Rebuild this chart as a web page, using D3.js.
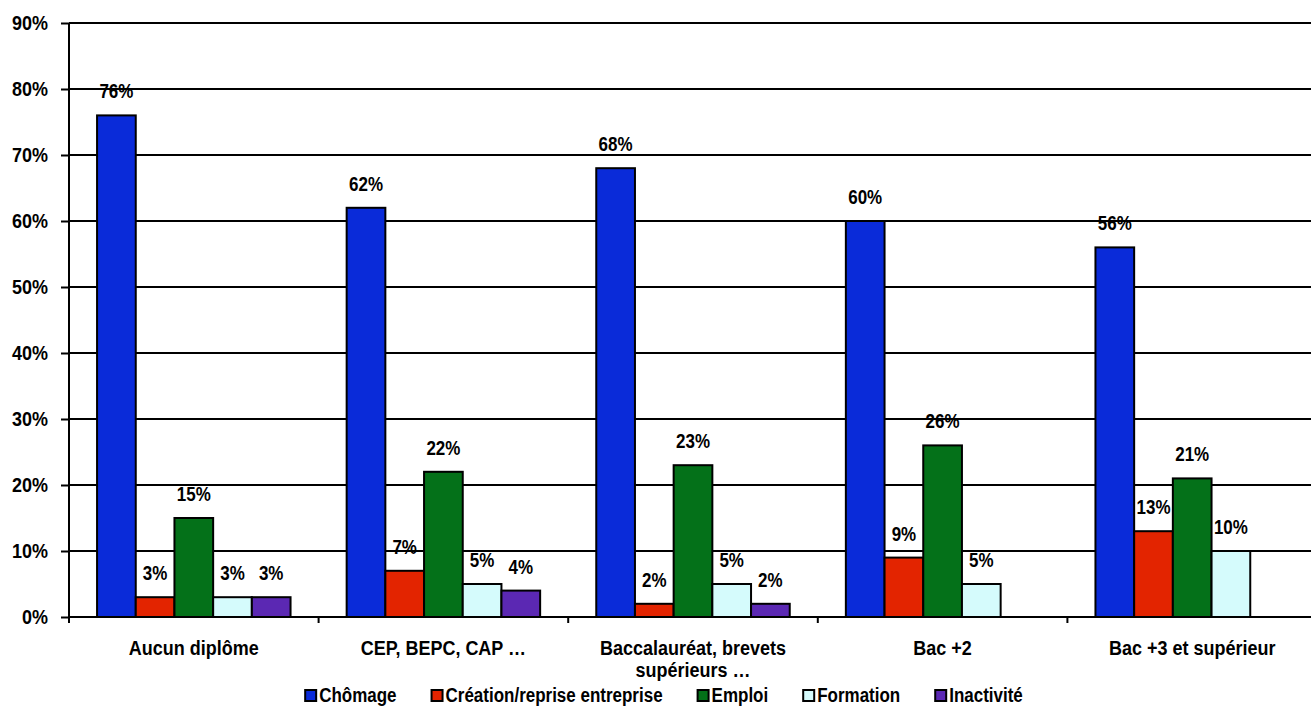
<!DOCTYPE html>
<html>
<head>
<meta charset="utf-8">
<script src="https://cdn.jsdelivr.net/npm/d3@7"></script>
<style>
  html, body { margin: 0; padding: 0; background: #fff; }
  svg { display: block; }
  text { font-family: "Liberation Sans", Arial, sans-serif; font-weight: bold; fill: #000; }
</style>
</head>
<body>
<svg id="chart" width="1311" height="707"></svg>
<script>
// Diplômes (catégories)
const categories = [
  "Aucun diplôme",
  "CEP, BEPC, CAP …",
  "Baccalauréat, brevets supérieurs …",
  "Bac +2",
  "Bac +3 et supérieur"
];

// Situation (séries)
const seriesNames = ["Chômage", "Création/reprise entreprise", "Emploi", "Formation", "Inactivité"];
const seriesColors = ["#0A2BD9", "#E32400", "#047119", "#D5FBFC", "#5B28B3"];

// Valeurs en % par série, dans l'ordre des catégories (null = pas de valeur)
const chomage   = [76, 62, 68, 60, 56];
const creation  = [3, 7, 2, 9, 13];
const emploi    = [15, 22, 23, 26, 21];
const formation = [3, 5, 5, 5, 10];
const inactivite = [3, 4, 2, null, null];

const yTicks = [0, 10, 20, 30, 40, 50, 60, 70, 80, 90];

const seriesValues = [chomage, creation, emploi, formation, inactivite];

const svg = d3.select("#chart");
const plotLeft = 69, plotRight = 1317, plotTop = 23, plotBottom = 617;
const TALL = 1.15; // étirement vertical des textes (police étroite)

// Étire un texte verticalement autour de sa ligne de base
function stretch(sel) {
  sel.attr("transform", function () {
    const yy = +this.getAttribute("y") || 0;
    return `translate(0,${yy}) scale(1,${TALL}) translate(0,${-yy})`;
  });
}

const x0 = d3.scaleBand().domain(categories).range([plotLeft, plotRight]).padding(0);
const bw = x0.bandwidth();
const gapFrac = 1.45 / (5 + 1.45) / 2;
const x1 = d3.scaleBand().domain(seriesNames).range([bw * gapFrac, bw * (1 - gapFrac)]).padding(0);
const y = d3.scaleLinear().domain([0, 90]).range([plotBottom, plotTop]);

// Lignes de quadrillage
svg.append("g")
  .selectAll("line")
  .data(yTicks.filter(d => d > 0))
  .join("line")
  .attr("x1", plotLeft).attr("x2", plotRight)
  .attr("y1", d => y(d)).attr("y2", d => y(d))
  .attr("stroke", "#000").attr("stroke-width", 2);

const rows = [];
categories.forEach((c, ci) => {
  seriesNames.forEach((s, si) => {
    const v = seriesValues[si][ci];
    if (v != null) rows.push({ c, s, v, color: seriesColors[si] });
  });
});

// Barres
svg.append("g")
  .selectAll("rect")
  .data(rows)
  .join("rect")
  .attr("x", d => x0(d.c) + x1(d.s))
  .attr("y", d => y(d.v))
  .attr("width", x1.bandwidth())
  .attr("height", d => y(0) - y(d.v))
  .attr("fill", d => d.color)
  .attr("stroke", "#000")
  .attr("stroke-width", 2);

// Étiquettes de valeur
svg.append("g")
  .selectAll("text")
  .data(rows)
  .join("text")
  .attr("x", d => x0(d.c) + x1(d.s) + x1.bandwidth() / 2)
  .attr("y", d => y(d.v) - 17)
  .attr("text-anchor", "middle")
  .style("font-size", "17px")
  .text(d => d.v + "%")
  .call(stretch);

// Axe vertical
const yAxis = d3.axisLeft(y)
  .tickValues(yTicks)
  .tickFormat(d => d + "%")
  .tickSize(8)
  .tickPadding(13);
const gy = svg.append("g").attr("transform", `translate(${plotLeft},0)`).call(yAxis);
gy.select(".domain").attr("stroke", "#000").attr("stroke-width", 2).attr("d", `M0,${plotTop}V${plotBottom}`);
gy.selectAll(".tick line").attr("stroke", "#000").attr("stroke-width", 2);
gy.selectAll(".tick text")
  .style("font-size", "18px")
  .style("font-family", '"Liberation Sans", Arial, sans-serif')
  .style("font-weight", "bold")
  .attr("fill", "#000")
  .attr("transform", `scale(1,${TALL})`);

// Axe horizontal
svg.append("line")
  .attr("x1", plotLeft).attr("x2", plotRight)
  .attr("y1", plotBottom).attr("y2", plotBottom)
  .attr("stroke", "#000").attr("stroke-width", 2);

const boundaries = categories.map(c => x0(c)).concat([plotRight]);
svg.append("g")
  .selectAll("line")
  .data(boundaries)
  .join("line")
  .attr("x1", d => d).attr("x2", d => d)
  .attr("y1", plotBottom).attr("y2", plotBottom + 6)
  .attr("stroke", "#000").attr("stroke-width", 2);

// Libellés de catégorie (avec retour à la ligne)
const catLabels = svg.append("g")
  .selectAll("text")
  .data(categories)
  .join("text")
  .attr("text-anchor", "middle")
  .style("font-size", "18px")
  .attr("x", c => x0(c) + bw / 2)
  .attr("y", 655);

catLabels.each(function (c) {
  const t = d3.select(this);
  const words = c.split(" ");
  const maxW = bw * 0.9;
  let line = [];
  let tspan = t.append("tspan").attr("x", x0(c) + bw / 2).attr("dy", 0);
  for (const w of words) {
    line.push(w);
    tspan.text(line.join(" "));
    if (tspan.node().getComputedTextLength() > maxW && line.length > 1) {
      line.pop();
      tspan.text(line.join(" "));
      line = [w];
      tspan = t.append("tspan").attr("x", x0(c) + bw / 2).attr("dy", 22 / TALL).text(w);
    }
  }
});
catLabels.call(stretch);

// Légende
const legend = svg.append("g");
const items = legend.selectAll("g")
  .data(seriesNames)
  .join("g");
items.append("rect")
  .attr("width", 11).attr("height", 11)
  .attr("y", -12)
  .attr("fill", (d, i) => seriesColors[i])
  .attr("stroke", "#000").attr("stroke-width", 2);
items.append("text")
  .attr("x", 14)
  .attr("y", 0)
  .style("font-size", "17px")
  .text(d => d)
  .call(stretch);

let cursor = 0;
const offsets = [];
items.each(function () {
  const w = this.getBBox().width;
  offsets.push(cursor);
  cursor += w + 35;
});
const totalW = cursor - 35;
const legendStart = 664 - totalW / 2;
items.attr("transform", (d, i) => `translate(${legendStart + offsets[i]},702)`);
</script>
</body>
</html>
